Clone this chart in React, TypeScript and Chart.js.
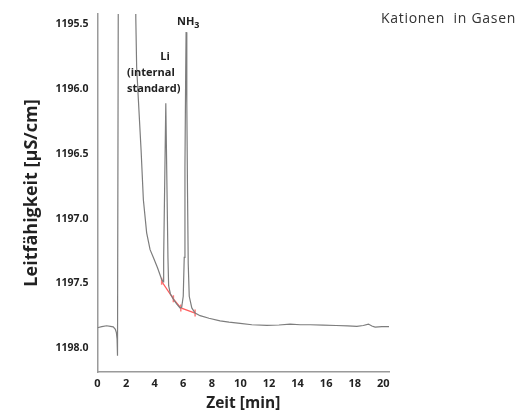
import React, { useEffect, useRef } from "react";
import { Chart, registerables } from "chart.js";

Chart.register(...registerables);

// Main conductivity trace
const times: number[] = [
  0.0, 0.3, 0.64, 0.9, 1.1, 1.25, 1.32, 1.37, 1.39, 1.41,
  1.46, 2.0, 2.66, 2.68, 2.74, 2.86, 3.05, 3.21, 3.44, 3.68, 3.91, 4.2, 4.49, 4.6,
  4.63, 4.7, 4.78, 4.86, 4.93, 4.98, 5.1, 5.35, 5.55, 5.78, 5.89,
  6.0, 6.07, 6.12, 6.17, 6.2, 6.25, 6.3, 6.35, 6.42, 6.6, 6.83,
  7.18, 7.8, 8.58, 9.2, 9.98, 10.8, 11.85, 12.7, 13.48, 14.2, 14.88, 15.8,
  16.7, 17.5, 18.15, 18.6, 18.96, 19.2, 19.43, 19.9, 20.41,
];
const conductivity: number[] = [
  1197.843, 1197.835, 1197.828, 1197.832, 1197.836, 1197.855, 1197.88, 1197.93, 1198.0, 1198.06,
  1195.0, 1193.0, 1195.2, 1195.45, 1195.83, 1196.08, 1196.47, 1196.855, 1197.11, 1197.24, 1197.3, 1197.38, 1197.47, 1197.49,
  1197.3, 1196.75, 1196.11, 1196.75, 1197.3, 1197.52, 1197.58, 1197.63, 1197.66, 1197.69, 1197.685,
  1197.6, 1197.3, 1196.6, 1195.9, 1195.56, 1196.1, 1196.8, 1197.35, 1197.6, 1197.69, 1197.73,
  1197.75, 1197.77, 1197.79, 1197.8, 1197.81, 1197.82, 1197.825, 1197.822, 1197.815, 1197.82, 1197.82, 1197.823,
  1197.826, 1197.828, 1197.832, 1197.826, 1197.815, 1197.83, 1197.838, 1197.835, 1197.835,
];

// Integration baseline (red)
const baseTimes: number[] = [4.49, 5.31, 5.83, 6.83];
const baseValues: number[] = [1197.485, 1197.62, 1197.69, 1197.73];

const xTicks: number[] = [0, 2, 4, 6, 8, 10, 12, 14, 16, 18, 20];
const yTicks: number[] = [
  1195.5, 1195.75, 1196.0, 1196.25, 1196.5, 1196.75, 1197.0, 1197.25, 1197.5, 1197.75, 1198.0,
];
const yLabelled: number[] = [1195.5, 1196.0, 1196.5, 1197.0, 1197.5, 1198.0];

const FONT = "'Open Sans', sans-serif";

const labelsPlugin = {
  id: "peakLabels",
  afterDraw(chart: any) {
    const ctx = chart.ctx;
    ctx.save();
    ctx.fillStyle = "#222";
    ctx.textBaseline = "middle";
    ctx.font = `bold 11px ${FONT}`;
    ctx.textAlign = "center";
    ctx.fillText("Li", 165, 57);
    ctx.textAlign = "left";
    ctx.fillText("(internal", 127, 73);
    ctx.fillText("standard)", 127, 89);
    ctx.fillText("NH", 177, 22);
    const w = ctx.measureText("NH").width;
    ctx.font = `bold 9px ${FONT}`;
    ctx.fillText("3", 177 + w, 25);
    ctx.font = `14px ${FONT}`;
    (ctx as any).letterSpacing = "0.7px";
    ctx.fillStyle = "#333";
    ctx.textAlign = "left";
    ctx.fillText("Kationen  in Gasen", 381, 19);
    ctx.restore();
  },
};

export default function App() {
  const ref = useRef<HTMLCanvasElement | null>(null);
  useEffect(() => {
    if (!ref.current) return;
    const chart = new Chart(ref.current, {
      type: "line",
      data: {
        datasets: [
          {
            data: times.map((t, i) => ({ x: t, y: conductivity[i] })),
            borderColor: "#7d7d7d",
            borderWidth: 1.2,
            pointRadius: 0,
            tension: 0,
          },
          {
            data: baseTimes.map((t, i) => ({ x: t, y: baseValues[i] })),
            borderColor: "#ff5c5c",
            borderWidth: 1.2,
            pointStyle: "line",
            rotation: 90,
            pointRadius: 3.5,
            pointBorderColor: "#ff7a7a",
            pointBorderWidth: 1.5,
            tension: 0,
          },
        ],
      },
      options: {
        responsive: false,
        animation: false,
        layout: { padding: { top: 14, right: 133, left: 0, bottom: 0 } },
        plugins: { legend: { display: false }, tooltip: { enabled: false } },
        scales: {
          x: {
            type: "linear",
            min: 0,
            max: 20.4,
            grid: { display: false, drawTicks: true, tickLength: 4, color: "#666" },
            border: { display: true, color: "#9a9a9a", width: 1.5 },
            afterBuildTicks: (s: any) => {
              s.ticks = xTicks.map((v) => ({ value: v }));
            },
            afterFit: (s: any) => {
              s.height = 41;
            },
            ticks: {
              font: { family: FONT, size: 11, weight: "bold" },
              color: "#222",
              padding: 1,
              maxRotation: 0,
              autoSkip: false,
            },
            title: {
              display: true,
              text: "Zeit [min]",
              font: { family: FONT, size: 15.5, weight: "bold" },
              color: "#222",
              padding: { top: 0, bottom: 0 },
            },
          },
          y: {
            type: "linear",
            reverse: true,
            min: 1195.42,
            max: 1198.185,
            grid: { display: false, drawTicks: true, tickLength: 4, color: "#666" },
            border: { display: true, color: "#9a9a9a", width: 1.5 },
            afterBuildTicks: (s: any) => {
              s.ticks = yTicks.map((v) => ({ value: v }));
            },
            afterFit: (s: any) => {
              s.width = 97.5;
            },
            ticks: {
              font: { family: FONT, size: 10.5, weight: "bold" },
              color: "#222",
              padding: 5,
              autoSkip: false,
              callback: (v: any) =>
                yLabelled.some((l) => Math.abs(l - Number(v)) < 1e-6) ? Number(v).toFixed(1) : "",
            },
            title: {
              display: true,
              text: "Leitfähigkeit [µS/cm]",
              font: { family: FONT, size: 18, weight: "bold" },
              color: "#222",
              padding: { top: 21, bottom: 0 },
            },
          },
        },
      },
      plugins: [labelsPlugin],
    } as any);
    return () => chart.destroy();
  }, []);
  return (
    <div style={{ position: "absolute", left: 0, top: 0, width: 522, height: 413, background: "#fff" }}>
      <canvas ref={ref} width={522} height={413} style={{ display: "block" }} />
    </div>
  );
}
